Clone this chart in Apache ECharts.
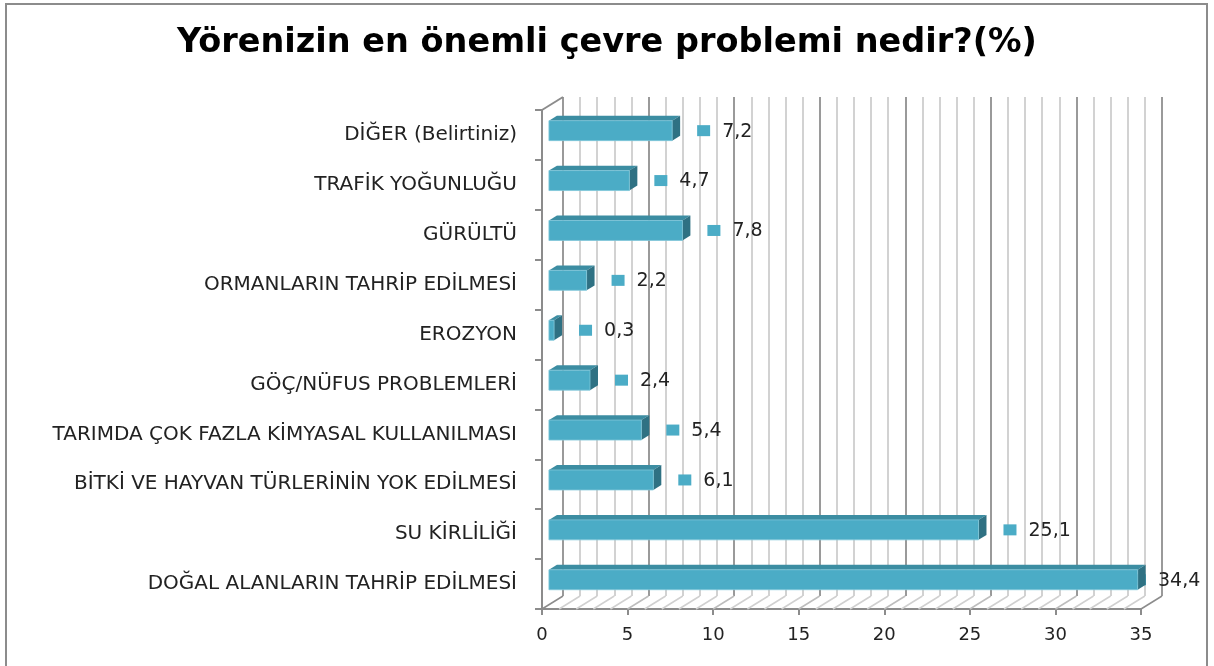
<!DOCTYPE html>
<html>
<head>
<meta charset="utf-8">
<script src="https://cdn.jsdelivr.net/npm/echarts@6/dist/echarts.min.js"></script>
<style>
html,body{margin:0;padding:0;background:#fff;}
#frame{position:absolute;left:5px;top:3px;width:1203px;height:700px;border:2px solid #8c8c8c;box-sizing:border-box;}
#chart{position:absolute;left:0;top:0;width:1214px;height:666px;}
</style>
</head>
<body>
<div id="frame"></div>
<div id="chart"></div>
<script>
const titleText = 'Yörenizin en önemli çevre problemi nedir?(%)';
const categories = [
  'DOĞAL ALANLARIN TAHRİP EDİLMESİ',
  'SU KİRLİLİĞİ',
  'BİTKİ VE HAYVAN TÜRLERİNİN YOK EDİLMESİ',
  'TARIMDA ÇOK FAZLA KİMYASAL KULLANILMASI',
  'GÖÇ/NÜFUS PROBLEMLERİ',
  'EROZYON',
  'ORMANLARIN TAHRİP EDİLMESİ',
  'GÜRÜLTÜ',
  'TRAFİK YOĞUNLUĞU',
  'DİĞER (Belirtiniz)'
];
const values = [34.4, 25.1, 6.1, 5.4, 2.4, 0.3, 2.2, 7.8, 4.7, 7.2];
const xMin = 0, xMax = 35, xInterval = 5;

const DEPTH = [21, -13];
const FRONT_F = 0.33, BACK_F = 0.71;
const COL_FRONT = '#4BACC6', COL_TOP = '#3C8DA2', COL_SIDE = '#2F7183';
const FONT = '"DejaVu Sans", "Noto Sans", sans-serif';

function fmt(v){ return String(v).replace('.', ','); }

function renderBar(params, api){
  const cat = api.value(0), v = api.value(1);
  const p0 = api.coord([0, cat]);
  const p1 = api.coord([v, cat]);
  const band = api.size([0, 1])[1];
  const h = band * 0.4;
  const fx = DEPTH[0]*FRONT_F, fy = DEPTH[1]*FRONT_F;
  const dx = DEPTH[0]*(BACK_F-FRONT_F), dy = DEPTH[1]*(BACK_F-FRONT_F);
  const x0 = p0[0] + fx, x1 = p1[0] + fx;
  const yT = p0[1] - h/2 + fy, yB = yT + h;
  const txt = fmt(v);
  const nd = txt.replace(/[^0-9]/g,'').length;
  const txtW = nd*12 + (txt.length - nd)*6;
  const labW = 13 + 12 + txtW;
  let mx = x1 + dx + 17;
  const lim = api.getWidth() - 14 - labW;
  if (mx > lim) mx = lim;
  const cy = (yT + yB)/2;
  return {
    type: 'group',
    children: [
      {type:'rect', shape:{x:mx, y:cy-5.5, width:13, height:11}, style:{fill:COL_FRONT}},
      {type:'polygon', shape:{points:[[x0,yT],[x1,yT],[x1+dx,yT+dy],[x0+dx,yT+dy]]}, style:{fill:COL_TOP}},
      {type:'polygon', shape:{points:[[x1,yT],[x1+dx,yT+dy],[x1+dx,yB+dy],[x1,yB]]}, style:{fill:COL_SIDE}},
      {type:'rect', shape:{x:x0, y:yT, width:Math.max(x1-x0,0.5), height:h}, style:{fill:COL_FRONT, stroke:'#7fc6d9', lineWidth:0.8}},
      {type:'text', style:{text:txt, x:mx+25, y:cy+1, verticalAlign:'middle', fill:'#222', fontSize:19, fontFamily:FONT}}
    ]
  };
}

function renderFloor(params, api){
  const cs = params.coordSys;
  const bottom = cs.y + cs.height;
  const children = [];
  for (let t = xMin; t <= xMax; t += 1){
    const x = api.coord([t, 0])[0];
    const major = (t % xInterval === 0);
    children.push({type:'line', shape:{x1:x, y1:bottom, x2:x+DEPTH[0], y2:bottom+DEPTH[1]},
      style:{stroke: (t===xMin||t===xMax) ? '#8c8c8c' : (major ? '#bdbdbd' : '#d0d0d0'), lineWidth:1.5}});
  }
  children.push({type:'line', shape:{x1:cs.x, y1:cs.y, x2:cs.x+DEPTH[0], y2:cs.y+DEPTH[1]},
    style:{stroke:'#8c8c8c', lineWidth:2}});
  return {type:'group', children};
}

const chart = echarts.init(document.getElementById('chart'), null, {renderer:'canvas'});
chart.setOption({
  backgroundColor: 'transparent',
  animation: false,
  title: {
    text: titleText, left: 'center', top: 21,
    textStyle: {fontFamily: FONT, fontWeight: 'bold', fontSize: 33.5, color: '#000'}
  },
  grid: [
    {left: 542, right: 73, top: 110, bottom: 57},
    {left: 563, right: 52, top: 97, bottom: 70}
  ],
  xAxis: [
    {gridIndex:0, type:'value', min:xMin, max:xMax, interval:xInterval,
     axisLine:{show:true, lineStyle:{color:'#8c8c8c', width:2}},
     axisTick:{show:true, length:6, lineStyle:{color:'#8c8c8c', width:2}},
     axisLabel:{fontSize:18, color:'#222', margin:17, fontFamily:FONT},
     splitLine:{show:false}},
    {gridIndex:1, type:'value', min:xMin, max:xMax, interval:xInterval,
     axisLine:{show:false}, axisTick:{show:false}, axisLabel:{show:false},
     splitLine:{show:true, lineStyle:{color:'#9a9a9a', width:2}},
     minorTick:{show:false, splitNumber:5},
     minorSplitLine:{show:true, lineStyle:{color:'#d2d2d2', width:2}}}
  ],
  yAxis: [
    {gridIndex:0, type:'category', data:categories,
     axisLine:{show:true, lineStyle:{color:'#8c8c8c', width:2}},
     axisTick:{show:true, length:7, lineStyle:{color:'#8c8c8c', width:2}},
     axisLabel:{fontSize:20, color:'#222', margin:25, fontFamily:FONT},
     splitLine:{show:false}},
    {gridIndex:1, type:'category', data:categories, show:false}
  ],
  series: [
    {type:'custom', xAxisIndex:0, yAxisIndex:0, z:1, renderItem:renderFloor,
     data:[[0, 0]], encode:{x:0, y:1}, silent:true},
    {type:'custom', xAxisIndex:0, yAxisIndex:0, z:3, renderItem:renderBar,
     data: values.map((v,i)=>[i, v]), encode:{x:1, y:0}}
  ]
});
</script>
</body>
</html>
